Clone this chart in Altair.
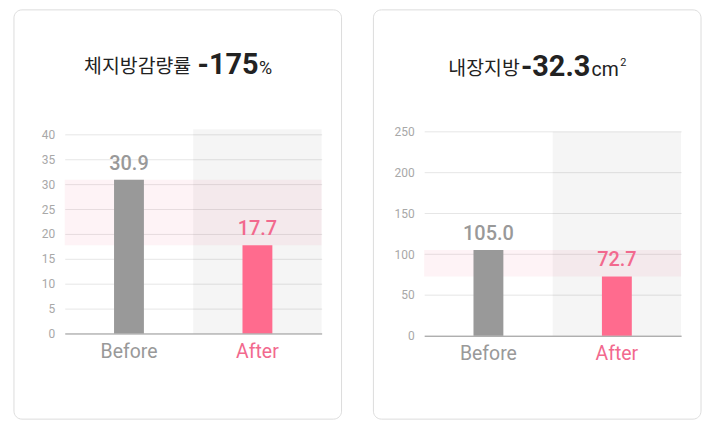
import altair as alt
import pandas as pd

CATEGORIES = ["Before", "After"]
FAT_RATE = [30.9, 17.7]
VISCERAL = [105.0, 72.7]
FAT_TICKS = [0, 5, 10, 15, 20, 25, 30, 35, 40]
VIS_TICKS = [0, 50, 100, 150, 200, 250]
TITLE_FAT = ["체지방감량률", "-175", "%"]
TITLE_VIS = ["내장지방", "-32.3", "cm", "2"]

GRAY = "#999999"
PINK = "#ff6b8e"
PINK_TXT = "#f2698e"
FONT = "Roboto, 'Noto Sans CJK KR', sans-serif"
KFONT = "'Noto Sans CJK KR', Roboto, sans-serif"


def panel(values, ydom, bg_top, ticks, title, tpos, card, unit_size, height):
    df = pd.DataFrame({"cat": CATEGORIES, "val": values})
    one = pd.DataFrame({"k": [0]})
    band = pd.DataFrame({"hi": [max(values)], "lo": [min(values)]})
    bg = pd.DataFrame({"cat": [CATEGORIES[1]]})

    xs = alt.Scale(domain=CATEGORIES, paddingInner=0, paddingOuter=0)
    ys = alt.Scale(domain=[0, ydom], nice=False)
    xax = alt.Axis(
        title=None, ticks=False, tickSize=0, labelPadding=24, labelBaseline="alphabetic",
        labelFontSize=19.5, labelFont=FONT, labelAngle=0, domainColor="#9a9a9a",
        labelColor={"expr": f"datum.value == 'After' ? '{PINK_TXT}' : '{GRAY}'"},
        grid=False,
    )
    yax = alt.Axis(
        title=None, values=ticks, ticks=False, domain=False, labelColor="#a8a8a8",
        labelFontSize=12, labelFont=FONT, labelPadding=10, gridColor="#e6e6e6",
        grid=True, labelOverlap=False,
    )
    cscale = alt.Scale(domain=CATEGORIES, range=[GRAY, PINK])
    tscale = alt.Scale(domain=CATEGORIES, range=[GRAY, PINK_TXT])

    cardl = alt.Chart(one).mark_rect(
        fill="white", fillOpacity=0, stroke="#dcdcdc", strokeWidth=1, cornerRadius=8
    ).encode(
        x=alt.value(card[0]), x2=alt.value(card[1]),
        y=alt.value(card[2]), y2=alt.value(card[3]),
    )
    bgl = alt.Chart(bg).mark_rect(fill="#000000", opacity=0.04).encode(
        x=alt.X("cat:N", scale=xs, axis=xax, sort=CATEGORIES),
        y=alt.Y(datum=bg_top, scale=ys, axis=yax), y2=alt.Y2(datum=0),
    )
    bandl = alt.Chart(band).mark_rect(fill="#f2698e", opacity=0.08).encode(
        y=alt.Y("hi:Q", scale=ys, axis=yax), y2="lo:Q",
    )
    bars = alt.Chart(df).mark_bar(size=30).encode(
        x=alt.X("cat:N", scale=xs, axis=xax, sort=CATEGORIES),
        y=alt.Y("val:Q", scale=ys, axis=yax),
        color=alt.Color("cat:N", scale=cscale, legend=None),
    )
    labels = alt.Chart(df).mark_text(
        dy=-10, baseline="alphabetic", fontSize=20, fontWeight=500, font=FONT
    ).encode(
        x=alt.X("cat:N", scale=xs, axis=xax, sort=CATEGORIES),
        y=alt.Y("val:Q", scale=ys, axis=yax),
        text=alt.Text("val:Q", format=".1f"),
        fill=alt.Fill("cat:N", scale=tscale, legend=None),
    )
    layers = [cardl, bgl, bandl, bars, labels]
    layers.append(alt.Chart(one).mark_text(
        align="right", baseline="alphabetic", fontSize=19.5, font=KFONT, color="#222222"
    ).encode(x=alt.value(tpos[0]), y=alt.value(tpos[3]), text=alt.value(title[0])))
    layers.append(alt.Chart(one).mark_text(
        align="center", baseline="alphabetic", fontSize=29, fontWeight="bold",
        font=FONT, color="#222222"
    ).encode(x=alt.value(tpos[1]), y=alt.value(tpos[3] + 1), text=alt.value(title[1])))
    layers.append(alt.Chart(one).mark_text(
        align="left", baseline="alphabetic", fontSize=unit_size, font=FONT, color="#222222"
    ).encode(x=alt.value(tpos[2]), y=alt.value(tpos[3] + 1), text=alt.value(title[2])))
    if len(title) > 3:
        layers.append(alt.Chart(one).mark_text(
            align="left", baseline="alphabetic", fontSize=11, font=FONT, color="#222222"
        ).encode(x=alt.value(tpos[4]), y=alt.value(tpos[3] - 9), text=alt.value(title[3])))

    return alt.layer(*layers).resolve_scale(fill="independent").properties(
        width=258, height=height
    )


p1 = panel(FAT_RATE, 41, 41, FAT_TICKS, TITLE_FAT, (127, 164, 195, -57),
           (-51, 278, -120, 291), 18, 205)
p2 = panel(VISCERAL, 252.8, 250, VIS_TICKS, TITLE_VIS, (96, 132, 168, -55, 197),
           (-51, 278, -120, 291), 19.5, 207.3)

chart = alt.hconcat(p1, p2, spacing=30).properties(
    padding={"left": 5, "top": 0, "right": 0, "bottom": 0},
    background="white",
).configure_view(stroke=None)

chart.save("out.html", embed_options={"renderer": "svg", "actions": False})
